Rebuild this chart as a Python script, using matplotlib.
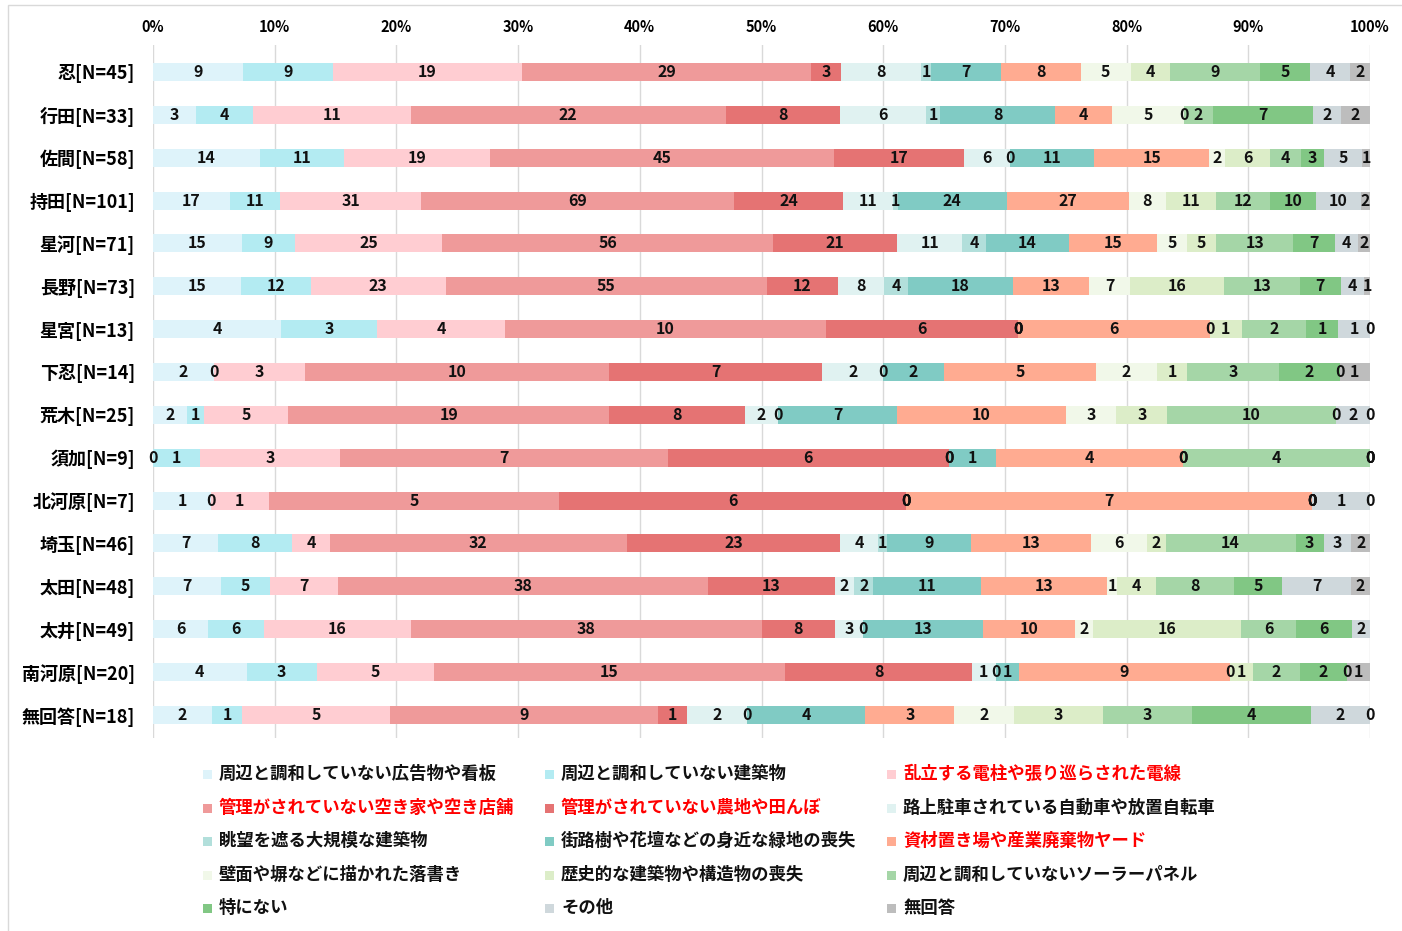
import numpy as np
import matplotlib.pyplot as plt
from matplotlib.patches import Rectangle

plt.rcParams['font.family'] = ['Noto Sans CJK JP', 'DejaVu Sans']

# Regions (rows, top to bottom)
regions = [
    "忍[N=45]", "行田[N=33]", "佐間[N=58]", "持田[N=101]", "星河[N=71]",
    "長野[N=73]", "星宮[N=13]", "下忍[N=14]", "荒木[N=25]", "須加[N=9]",
    "北河原[N=7]", "埼玉[N=46]", "太田[N=48]", "太井[N=49]", "南河原[N=20]",
    "無回答[N=18]",
]

# Answer categories (stack order, left to right)
items = [
    "周辺と調和していない広告物や看板",
    "周辺と調和していない建築物",
    "乱立する電柱や張り巡らされた電線",
    "管理がされていない空き家や空き店舗",
    "管理がされていない農地や田んぼ",
    "路上駐車されている自動車や放置自転車",
    "眺望を遮る大規模な建築物",
    "街路樹や花壇などの身近な緑地の喪失",
    "資材置き場や産業廃棄物ヤード",
    "壁面や塀などに描かれた落書き",
    "歴史的な建築物や構造物の喪失",
    "周辺と調和していないソーラーパネル",
    "特にない",
    "その他",
    "無回答",
]

colors = [
    "#DEF3FA", "#B3EBF2", "#FFCDD2", "#EF9A9A", "#E57373",
    "#E0F2F1", "#B2DFDB", "#80CBC4", "#FFAB91", "#F1F8E9",
    "#DCEDC8", "#A5D6A7", "#81C784", "#CFD8DC", "#BDBDBD",
]

# items highlighted in red in the legend
highlighted = [2, 3, 4, 8]

# answer counts, one list per region in the order of `items`
counts = [
    [9, 9, 19, 29, 3, 8, 1, 7, 8, 5, 4, 9, 5, 4, 2],
    [3, 4, 11, 22, 8, 6, 1, 8, 4, 5, 0, 2, 7, 2, 2],
    [14, 11, 19, 45, 17, 6, 0, 11, 15, 2, 6, 4, 3, 5, 1],
    [17, 11, 31, 69, 24, 11, 1, 24, 27, 8, 11, 12, 10, 10, 2],
    [15, 9, 25, 56, 21, 11, 4, 14, 15, 5, 5, 13, 7, 4, 2],
    [15, 12, 23, 55, 12, 8, 4, 18, 13, 7, 16, 13, 7, 4, 1],
    [4, 3, 4, 10, 6, 0, 0, 0, 6, 0, 1, 2, 1, 1, 0],
    [2, 0, 3, 10, 7, 2, 0, 2, 5, 2, 1, 3, 2, 0, 1],
    [2, 1, 5, 19, 8, 2, 0, 7, 10, 3, 3, 10, 0, 2, 0],
    [0, 1, 3, 7, 6, 0, 0, 1, 4, 0, 0, 4, 0, 0, 0],
    [1, 0, 1, 5, 6, 0, 0, 0, 7, 0, 0, 0, 0, 1, 0],
    [7, 8, 4, 32, 23, 4, 1, 9, 13, 6, 2, 14, 3, 3, 2],
    [7, 5, 7, 38, 13, 2, 2, 11, 13, 1, 4, 8, 5, 7, 2],
    [6, 6, 16, 38, 8, 3, 0, 13, 10, 2, 16, 6, 6, 2, 0],
    [4, 3, 5, 15, 8, 1, 0, 1, 9, 0, 1, 2, 2, 0, 1],
    [2, 1, 5, 9, 1, 2, 0, 4, 3, 2, 3, 3, 4, 2, 0],
]

ticks = list(range(0, 101, 10))

W, H = 1402, 931
fig = plt.figure(figsize=(W / 100, H / 100), dpi=100)
fig.patch.set_facecolor("white")

# thin chart-area frame like the original
fig.patches.append(Rectangle((8 / W, -0.01), 1.0, 1 - 5 / H + 0.01,
                             transform=fig.transFigure, fill=False,
                             edgecolor="#D9D9D9", lw=1))

ax = fig.add_axes([153 / W, 1 - 738 / H, (1370 - 153) / W, (738 - 45) / H])

data = np.array(counts, dtype=float)
pct = data / data.sum(axis=1, keepdims=True) * 100
y = np.arange(len(regions))
left = np.zeros(len(regions))

for j, name in enumerate(items):
    bars = ax.barh(y, pct[:, j], left=left, height=0.42, color=colors[j],
                   edgecolor="none", zorder=2)
    ax.bar_label(bars, labels=[str(v) for v in data[:, j].astype(int)],
                 label_type="center", fontsize=11.5, fontweight="bold",
                 color="#111111", zorder=5, clip_on=False)
    left += pct[:, j]

ax.set_xlim(0, 100)
ax.set_ylim(len(regions) - 1 + 0.54, -0.63)
ax.set_xticks(ticks)
ax.set_xticklabels([f"{t}%" for t in ticks], fontsize=10.5, fontweight="bold")
ax.xaxis.tick_top()
ax.set_yticks(y)
ax.set_yticklabels(regions, fontsize=13, fontweight="bold")
ax.tick_params(axis="x", length=0, pad=7)
ax.tick_params(axis="y", length=0, pad=13)
ax.grid(axis="x", color="#D9D9D9", lw=1, zorder=0)
for s in ax.spines.values():
    s.set_visible(False)

# legend, three columns filled row by row
col_x = [203, 545, 887]
row_y = [774, 808, 841, 875, 908]
for i, name in enumerate(items):
    r, c = divmod(i, 3)
    x0, y0 = col_x[c], row_y[r]
    fig.patches.append(Rectangle((x0 / W, 1 - (y0 + 5) / H), 9 / W, 9 / H,
                                 transform=fig.transFigure,
                                 facecolor=colors[i], edgecolor="none"))
    fig.text((x0 + 16) / W, 1 - y0 / H, name, fontsize=12.5,
             fontweight="bold", va="center", ha="left",
             color="#FF0000" if i in highlighted else "#111111")

fig.savefig("out.png", dpi=100)
